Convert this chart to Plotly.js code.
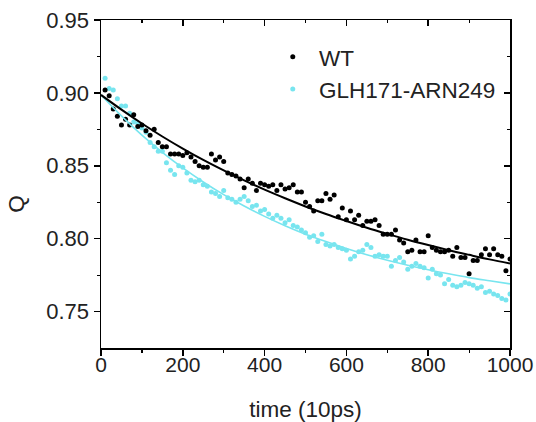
<!DOCTYPE html>
<html>
<head>
<meta charset="utf-8">
<script src="https://cdn.plot.ly/plotly-3.0.1.min.js"></script>
<style>html,body{margin:0;padding:0;background:#fff;}#chart{width:536px;height:422px;}</style>
</head>
<body>
<div id="chart"></div>
<script>
const time = [10,20,30,40,50,60,70,80,90,100,110,120,130,140,150,160,170,180,190,200,
210,220,230,240,250,260,270,280,290,300,310,320,330,340,350,360,370,380,390,400,
410,420,430,440,450,460,470,480,490,500,510,520,530,540,550,560,570,580,590,600,
610,620,630,640,650,660,670,680,690,700,710,720,730,740,750,760,770,780,790,800,
810,820,830,840,850,860,870,880,890,900,910,920,930,940,950,960,970,980,990,1000];

const qWT = [0.902,0.898,0.889,0.884,0.878,0.882,0.878,0.885,0.877,0.878,
0.874,0.871,0.875,0.866,0.863,0.863,0.858,0.858,0.858,0.857,
0.859,0.856,0.853,0.850,0.849,0.849,0.858,0.854,0.856,0.853,
0.845,0.844,0.843,0.841,0.835,0.841,0.838,0.833,0.838,0.837,
0.836,0.837,0.833,0.837,0.834,0.835,0.837,0.832,0.832,0.825,
0.822,0.819,0.826,0.826,0.831,0.827,0.830,0.815,0.821,0.813,
0.819,0.813,0.816,0.809,0.812,0.812,0.813,0.809,0.803,0.803,
0.803,0.806,0.799,0.797,0.791,0.792,0.799,0.791,0.791,0.802,
0.794,0.792,0.791,0.791,0.792,0.788,0.794,0.787,0.787,0.776,
0.785,0.785,0.789,0.793,0.789,0.793,0.789,0.788,0.778,0.786];

const qMut = [0.910,0.903,0.902,0.896,0.891,0.891,0.886,0.880,0.879,0.876,
0.873,0.866,0.863,0.860,0.860,0.852,0.847,0.844,0.850,0.849,
0.845,0.840,0.839,0.840,0.837,0.836,0.832,0.831,0.829,0.833,
0.828,0.827,0.825,0.827,0.829,0.826,0.822,0.823,0.819,0.820,
0.817,0.814,0.816,0.814,0.811,0.813,0.809,0.808,0.806,0.804,
0.801,0.802,0.798,0.803,0.796,0.795,0.796,0.794,0.793,0.792,
0.786,0.788,0.791,0.792,0.796,0.794,0.788,0.789,0.788,0.788,
0.781,0.785,0.787,0.784,0.779,0.781,0.783,0.781,0.780,0.773,
0.779,0.776,0.775,0.769,0.772,0.768,0.767,0.768,0.770,0.769,
0.768,0.766,0.767,0.763,0.764,0.762,0.761,0.759,0.758,0.762];

const fitTime = [0,50,100,150,200,250,300,350,400,450,500,550,600,650,700,750,800,850,900,950,1000];
const fitWT = [0.8986,0.8885,0.8790,0.8701,0.8618,0.8540,0.8468,0.8400,0.8336,0.8277,0.8221,
0.8169,0.8121,0.8075,0.8033,0.7993,0.7956,0.7921,0.7889,0.7858,0.7830];
const fitMut = [0.8987,0.8842,0.8710,0.8592,0.8485,0.8389,0.8302,0.8224,0.8153,0.8089,0.8031,
0.7980,0.7933,0.7890,0.7852,0.7818,0.7787,0.7759,0.7733,0.7711,0.7690];

const names = ['WT','GLH171-ARN249'];
const black = '#000000';
const cyan = '#78e5ef';
const FONT = '"Liberation Sans", Arial, Helvetica, sans-serif';

const traces = [
  {x: time, y: qMut, mode: 'markers', name: names[1], marker: {color: cyan, size: 5}, showlegend: false},
  {x: time, y: qWT, mode: 'markers', name: '\u00a0' + names[0], marker: {color: black, size: 5}},
  {x: [null], y: [null], mode: 'markers', name: '\u00a0' + names[1], marker: {color: cyan, size: 5}},
  {x: fitTime, y: fitMut, mode: 'lines', line: {color: cyan, width: 1.6, shape: 'spline'}, showlegend: false, hoverinfo: 'skip'},
  {x: fitTime, y: fitWT, mode: 'lines', line: {color: black, width: 2, shape: 'spline'}, showlegend: false, hoverinfo: 'skip'},
  {x: [], y: [], xaxis: 'x2', yaxis: 'y2', mode: 'markers', showlegend: false}
];

const axCommon = {
  showgrid: false, zeroline: false, showline: true, linecolor: '#000', linewidth: 1.5,
  tickcolor: '#000', tickwidth: 1.5, ticklen: 6
};

const layout = {
  width: 536, height: 422,
  margin: {l: 101, r: 26, t: 20, b: 74},
  paper_bgcolor: '#fff', plot_bgcolor: '#fff',
  font: {family: FONT, size: 21, color: '#222'},
  showlegend: true,
  legend: {x: 0.42, y: 0.952, xanchor: 'left', yanchor: 'top', bgcolor: 'rgba(0,0,0,0)',
           font: {family: FONT, size: 22.5, color: '#222'}, tracegroupgap: 0},
  xaxis: Object.assign({}, axCommon, {
    range: [0, 1000], tickvals: [0,200,400,600,800,1000], ticks: 'outside',
    ticklabelstandoff: -9,
    minor: {tickvals: [100,300,500,700,900], ticks: 'outside', ticklen: 3, tickcolor: '#000', tickwidth: 1.2},
    tickfont: {family: FONT, size: 21, color: '#222'},
    title: {text: 'time (10ps)', font: {family: FONT, size: 22.5, color: '#222'}, standoff: 28}
  }),
  yaxis: Object.assign({}, axCommon, {
    range: [0.725, 0.95], tickvals: [0.75,0.80,0.85,0.90,0.95], tickformat: '.2f', ticks: 'outside',
    minor: {tickvals: [0.775,0.825,0.875,0.925], ticks: 'outside', ticklen: 3, tickcolor: '#000', tickwidth: 1.2},
    tickfont: {family: FONT, size: 22, color: '#222'}
  }),
  xaxis2: Object.assign({}, axCommon, {
    overlaying: 'x', side: 'top', range: [0, 1000], tickvals: [0,200,400,600,800,1000], ticks: 'inside',
    showticklabels: false,
    minor: {tickvals: [100,300,500,700,900], ticks: 'inside', ticklen: 3, tickcolor: '#000', tickwidth: 1.2}
  }),
  yaxis2: Object.assign({}, axCommon, {
    overlaying: 'y', side: 'right', range: [0.725, 0.95], tickvals: [0.75,0.80,0.85,0.90,0.95], ticks: 'inside',
    showticklabels: false,
    minor: {tickvals: [0.775,0.825,0.875,0.925], ticks: 'inside', ticklen: 3, tickcolor: '#000', tickwidth: 1.2}
  }),
  annotations: [{
    text: 'Q', xref: 'paper', yref: 'y', x: 0, y: 0.824, xshift: -84, xanchor: 'center', yanchor: 'middle',
    textangle: -90, showarrow: false, font: {family: FONT, size: 22.5, color: '#222'}
  }]
};

Plotly.newPlot('chart', traces, layout, {displayModeBar: false, staticPlot: true});
</script>
</body>
</html>
